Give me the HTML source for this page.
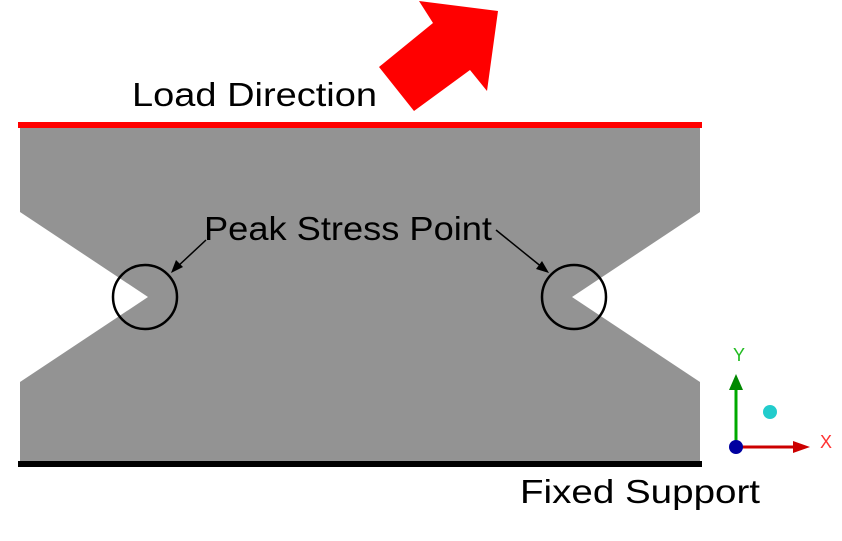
<!DOCTYPE html>
<html><head><style>body{margin:0;background:#fff}</style></head><body>
<svg width="842" height="536" xmlns="http://www.w3.org/2000/svg" font-family="Liberation Sans, sans-serif">
<polygon points="20,128 700,128 700,212 572,297 700,382 700,462 20,462 20,382 148,297 20,212" fill="#939393"/>
<rect x="18" y="122" width="684" height="6" fill="#f00"/>
<rect x="18" y="461" width="684" height="6" fill="#000"/>
<polygon points="419,1 498,11 487,91 470,70 414,111 379,67 433,23" fill="#f00"/>
<text x="132" y="106" font-size="33" textLength="245" lengthAdjust="spacingAndGlyphs">Load Direction</text>
<text x="520" y="503" font-size="33" textLength="240" lengthAdjust="spacingAndGlyphs">Fixed Support</text>
<text x="204" y="240" font-size="33" textLength="288" lengthAdjust="spacingAndGlyphs">Peak Stress Point</text>
<circle cx="145" cy="297" r="32" fill="none" stroke="#000" stroke-width="2.5"/>
<circle cx="574" cy="297" r="32" fill="none" stroke="#000" stroke-width="2.5"/>
<line x1="206" y1="240" x2="176" y2="268" stroke="#000" stroke-width="1.5"/>
<polygon points="171,273 176,260 183,267" fill="#000"/>
<line x1="496" y1="230" x2="543" y2="268" stroke="#000" stroke-width="1.5"/>
<polygon points="549,273 536,269 542,261" fill="#000"/>
<line x1="736" y1="447" x2="736" y2="385" stroke="#0a0" stroke-width="3"/>
<polygon points="736,374 729,390 743,390" fill="#080"/>
<line x1="736" y1="447" x2="798" y2="447" stroke="#c00" stroke-width="3"/>
<polygon points="810,447 793,441 793,453" fill="#c00"/>
<circle cx="736" cy="447" r="7" fill="#0000a0"/>
<circle cx="770" cy="412" r="7" fill="#2cc"/>
<text x="733" y="361" font-size="18" fill="#2b2">Y</text>
<text x="820" y="448" font-size="18" fill="#f33">X</text>
</svg>
</body></html>
